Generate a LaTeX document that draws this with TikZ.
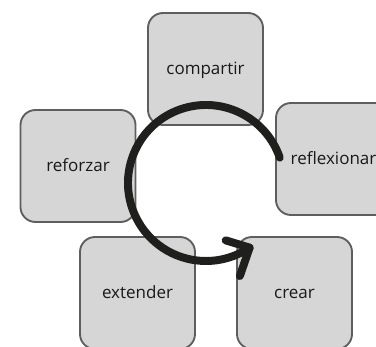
\documentclass[tikz,border=0pt]{standalone}
\usepackage{fontspec}
\setmainfont{Open Sans}
\usepackage{tikz}

\definecolor{cajagris}{HTML}{D6D6D6}
\definecolor{bordegris}{HTML}{5E5E5E}
\definecolor{flechanegra}{HTML}{1F201E}

\tikzset{
  tarjeta/.style={draw=bordegris, fill=cajagris, line width=1.6pt, rounded corners=0.45cm,
    minimum width=3.45cm, minimum height=3.36cm, text=black!90,
    text height=12pt, text depth=2.6pt, font=\fontsize{14.5}{17}\selectfont},
  ciclo/.style={draw=flechanegra, line width=6.8pt, line cap=round, line join=round}
}

\begin{document}
\begin{tikzpicture}[x=0.03cm, y=0.03cm]
\useasboundingbox (0,0) rectangle (376,346);
\clip (0,0) rectangle (376,346);
\node[tarjeta] (compartir) at (205.5,277) {compartir};
\node[tarjeta] (reforzar) at (78,180) {reforzar};
\node[tarjeta] (reflexionar) at (333.5,187) {reflexionar};
\node[tarjeta] (extender) at (137.5,53) {extender};
\node[tarjeta] (crear) at (294.5,53) {crear};
% flecha circular
\coordinate (centro) at (206,163);
\draw[ciclo] ([shift={(19:78)}]centro) arc[start angle=19, end angle=304, radius=78] coordinate (punta);
\draw[ciclo] ([shift={(163:25)}]punta) -- (punta) -- ++(251:30);
\end{tikzpicture}
\end{document}
